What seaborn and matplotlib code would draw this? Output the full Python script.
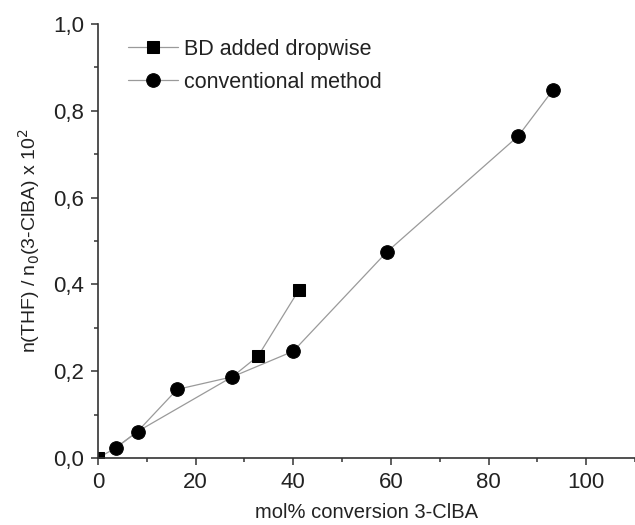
import matplotlib
matplotlib.use("Agg")
import matplotlib.pyplot as plt
from matplotlib.ticker import MultipleLocator, FuncFormatter
import seaborn as sns
import pandas as pd

# BD added dropwise (squares); points 1-3 sit under the circles
bd_x = [0.0, 3.6, 8.1, 27.5, 32.8, 41.2]
bd_y = [0.0, 0.023, 0.061, 0.187, 0.235, 0.388]
bd_shown = [0, 4, 5]

# conventional method (circles)
conv_x = [3.6, 8.1, 16.2, 27.5, 40.0, 59.1, 86.1, 93.2]
conv_y = [0.023, 0.061, 0.158, 0.187, 0.246, 0.474, 0.742, 0.848]

labels = ["BD added dropwise", "conventional method"]

sns.set_style("ticks")
plt.rcParams["font.family"] = ["Liberation Sans", "DejaVu Sans"]

fig = plt.figure(figsize=(6.35, 5.25), dpi=100)
ax = fig.add_axes([0.1543, 0.1276, 0.8457, 0.8267])

df_bd = pd.DataFrame({"x": bd_x, "y": bd_y})
df_cv = pd.DataFrame({"x": conv_x, "y": conv_y})

sns.lineplot(data=df_bd, x="x", y="y", ax=ax, color="#9a9a9a", lw=0.9,
             marker="s", markersize=8, markerfacecolor="black",
             markeredgecolor="black", markevery=bd_shown,
             label=labels[0], sort=False)
sns.lineplot(data=df_cv, x="x", y="y", ax=ax, color="#9a9a9a", lw=0.9,
             marker="o", markersize=9.8, markerfacecolor="black",
             markeredgecolor="black", label=labels[1], sort=False)

ax.set_xlim(0, 110)
ax.set_ylim(0, 1.0)
ax.xaxis.set_major_locator(MultipleLocator(20))
ax.xaxis.set_minor_locator(MultipleLocator(10))
ax.yaxis.set_major_locator(MultipleLocator(0.2))
ax.yaxis.set_minor_locator(MultipleLocator(0.1))
ax.yaxis.set_major_formatter(FuncFormatter(lambda v, p: f"{v:.1f}".replace(".", ",")))

for s in ["top", "right"]:
    ax.spines[s].set_visible(False)
for s in ["left", "bottom"]:
    ax.spines[s].set_color("#333333")
    ax.spines[s].set_linewidth(1.2)

ax.tick_params(axis="both", which="major", direction="out", length=5,
               width=1.1, color="#333333", labelsize=16, labelcolor="#222222", pad=5)
ax.tick_params(axis="both", which="minor", direction="out", length=3,
               width=1.1, color="#333333")

ax.set_xlabel("mol% conversion 3-ClBA", fontsize=14.5, color="#222222", labelpad=7)
ax.set_ylabel(r"n(THF) / n$_0$(3-ClBA) x 10$^2$", fontsize=14, color="#222222", labelpad=8)

leg = ax.legend(loc="upper left", bbox_to_anchor=(0.02, 1.01), frameon=False,
                fontsize=15.5, handlelength=2.3, handletextpad=0.3, labelspacing=0.55)
for t in leg.get_texts():
    t.set_color("#222222")

fig.savefig("out.png", dpi=100)
